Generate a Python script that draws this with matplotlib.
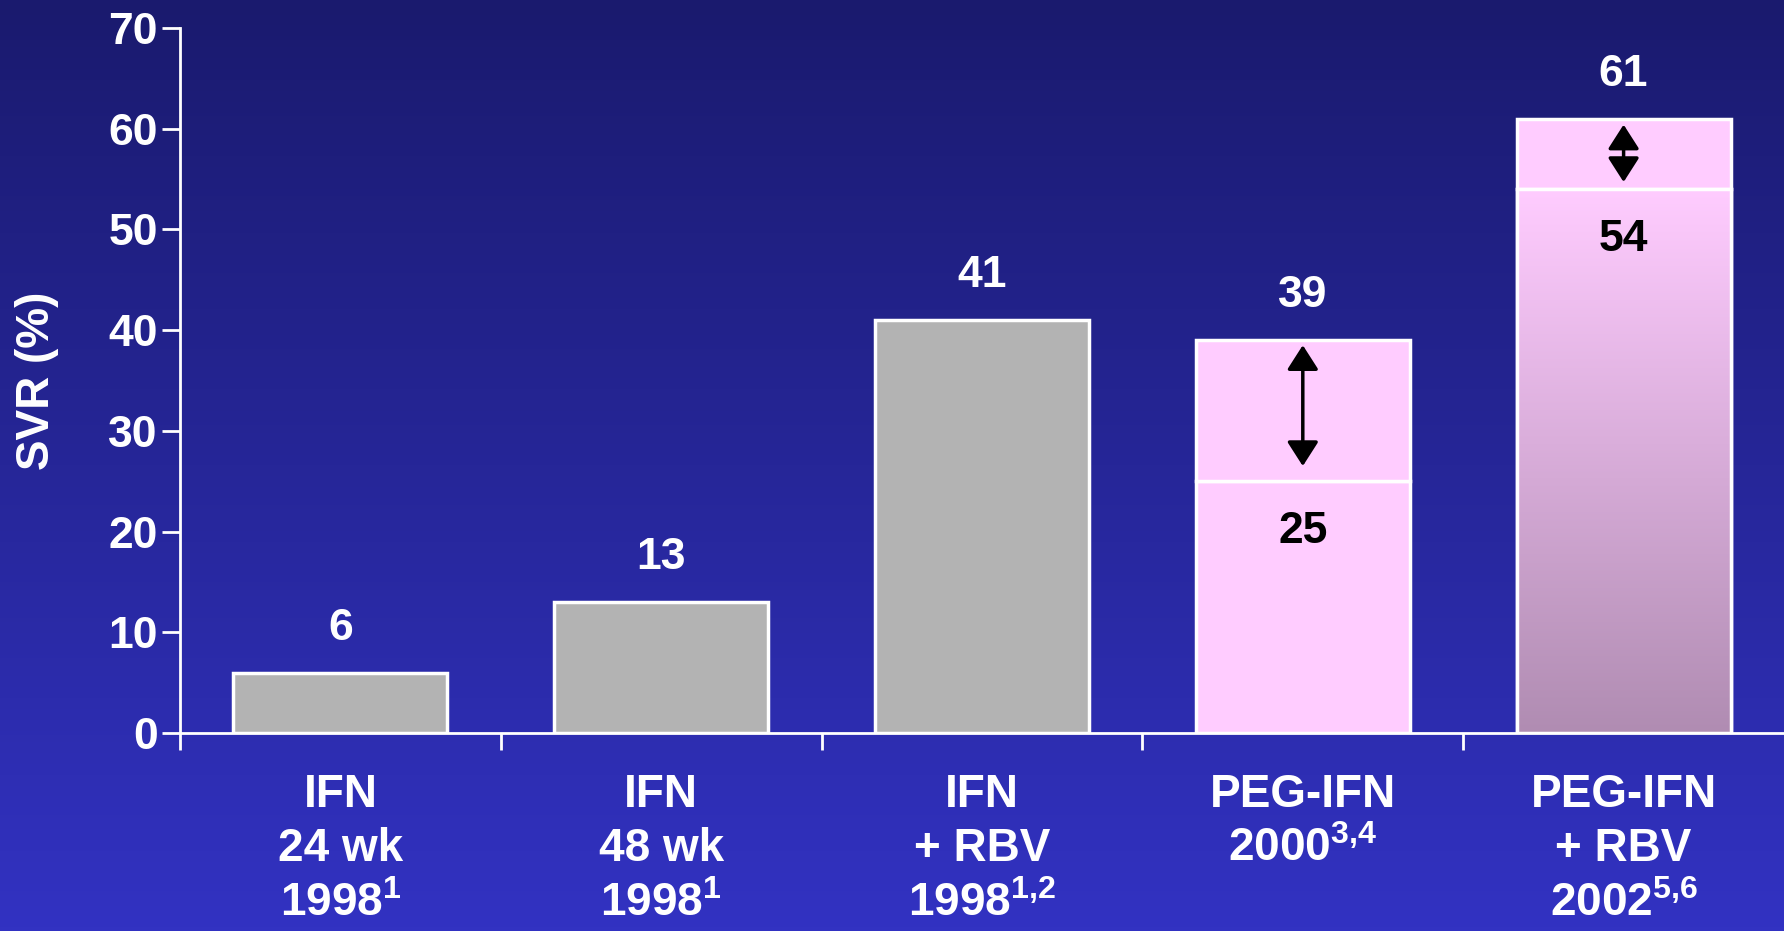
import matplotlib

matplotlib.use("Agg")
import matplotlib.pyplot as plt
import numpy as np
from matplotlib.colors import LinearSegmentedColormap

plt.rcParams["font.family"] = ["Liberation Sans", "DejaVu Sans"]
plt.rcParams["font.weight"] = "bold"
plt.rcParams["mathtext.fontset"] = "custom"
plt.rcParams["mathtext.rm"] = "Liberation Sans:bold"
plt.rcParams["mathtext.it"] = "Liberation Sans:bold"
plt.rcParams["mathtext.bf"] = "Liberation Sans:bold"

# SVR rates by regimen; the PEG bars show the gain over the lower segment
regimens = ["IFN\n24 wk\n1998$^{1}$",
            "IFN\n48 wk\n1998$^{1}$",
            "IFN\n+ RBV\n1998$^{1{,}2}$",
            "PEG-IFN\n2000$^{3{,}4}$\n ",
            "PEG-IFN\n+ RBV\n2002$^{5{,}6}$"]
svr_total = [6, 13, 41, 39, 61]
svr_base = [6, 13, 41, 25, 54]
is_peg = [False, False, False, True, True]
# double arrows spanning the gain (lower, upper end)
arrow_lo = [None, None, None, 26.5, 54.7]
arrow_hi = [None, None, None, 38.5, 60.4]

GRAY = "#b3b3b3"
PINK = "#ffccff"
MAUVE = "#b08cb2"

fig = plt.figure(figsize=(17.84, 9.31), dpi=100)

# background: dark navy at top fading to a brighter blue
bg = fig.add_axes([0, 0, 1, 1], zorder=-1)
bg_cmap = LinearSegmentedColormap.from_list("bg", ["#1a1a6e", "#3232c2"])
bg.imshow(np.linspace(0, 1, 256).reshape(-1, 1), cmap=bg_cmap, aspect="auto",
          extent=[0, 1, 0, 1], origin="upper")
bg.axis("off")

ax = fig.add_axes([0.1009, 0.2127, 0.8991, 0.7573])
ax.set_facecolor("none")

x = np.arange(len(regimens))
width = 0.667
colors = [PINK if p else GRAY for p in is_peg]

lower = ax.bar(x, svr_base, width, color=colors, edgecolor="white", linewidth=2.5, zorder=2)
gain = np.array(svr_total) - np.array(svr_base)
ax.bar(x[gain > 0], gain[gain > 0], width, bottom=np.array(svr_base)[gain > 0],
       color=PINK, edgecolor="white", linewidth=2.5, zorder=2)

# last bar: vertical fade from pink down to mauve
grad_cmap = LinearSegmentedColormap.from_list("fade", [PINK, MAUVE])
last = len(regimens) - 1
img = ax.imshow(np.linspace(0, 1, 256).reshape(-1, 1), cmap=grad_cmap, aspect="auto",
                extent=[x[last] - width / 2, x[last] + width / 2, 0, svr_base[last]],
                origin="upper", zorder=2.2)
img.set_clip_path(lower[last])
ax.bar(x[last], svr_base[last], width, fill=False, edgecolor="white", linewidth=2.5, zorder=2.4)

for i in range(len(regimens)):
    ax.annotate(str(svr_total[i]), (x[i], svr_total[i]), xytext=(0, 32),
                textcoords="offset points", ha="center", va="center",
                color="white", fontsize=32, fontweight="bold")
    if is_peg[i]:
        ax.annotate(str(svr_base[i]), (x[i], svr_base[i]), xytext=(0, -36),
                    textcoords="offset points", ha="center", va="center",
                    color="black", fontsize=32, fontweight="bold")
    if arrow_lo[i] is not None:
        ax.annotate("", xy=(x[i], arrow_hi[i]), xytext=(x[i], arrow_lo[i]),
                    arrowprops=dict(arrowstyle="<|-|>,head_length=0.5,head_width=0.32",
                                    color="black", lw=2.5, mutation_scale=30,
                                    shrinkA=0, shrinkB=0), zorder=4)

ax.set_xlim(-0.5, len(regimens) - 0.5)
ax.set_ylim(0, 70)
ax.set_yticks(range(0, 71, 10))
ax.set_xticks(np.arange(-0.5, len(regimens) - 1, 1.0))
ax.set_xticklabels([])
ax.set_xticks(x, minor=True)
ax.set_xticklabels(regimens, minor=True, linespacing=1.3)

for side in ["top", "right"]:
    ax.spines[side].set_visible(False)
for side in ["left", "bottom"]:
    ax.spines[side].set_color("white")
    ax.spines[side].set_linewidth(2)

ax.tick_params(axis="y", colors="white", labelsize=32, length=13, width=2, pad=3)
ax.tick_params(axis="x", which="major", colors="white", length=12, width=2, direction="out")
ax.tick_params(axis="x", which="minor", colors="white", length=0, labelsize=33, pad=29)
for lbl in ax.get_xticklabels(minor=True) + ax.get_yticklabels():
    lbl.set_fontweight("bold")

ax.set_ylabel("SVR (%)", color="white", fontsize=33, fontweight="bold", va="center")
ax.yaxis.set_label_coords(-0.089, 0.5)

fig.savefig("out.png", dpi=100)
